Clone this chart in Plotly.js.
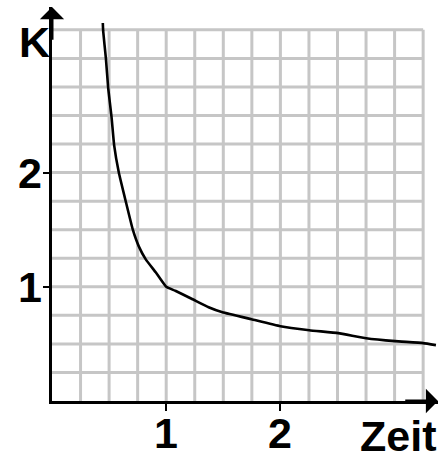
<!DOCTYPE html>
<html>
<head>
<meta charset="utf-8">
<script src="https://cdn.plot.ly/plotly-3.0.1.min.js"></script>
<style>html,body{margin:0;padding:0;background:#fff;}#chart{width:438px;height:455px;}</style>
</head>
<body>
<div id="chart"></div>
<script>
// Curve: Zeit (x) and K (y)
var zeit = [0.445, 0.448, 0.472, 0.492, 0.521, 0.544, 0.585, 0.646, 0.707, 0.760, 0.821, 0.908, 1.0, 1.08, 1.231, 1.371, 1.493, 1.747, 2.0, 2.253, 2.507, 2.751, 3.004, 3.249, 3.362];
var kWerte = [3.31, 3.24, 3.0, 2.74, 2.49, 2.24, 2.0, 1.747, 1.502, 1.354, 1.24, 1.127, 1.0, 0.965, 0.891, 0.821, 0.777, 0.716, 0.655, 0.62, 0.594, 0.55, 0.524, 0.507, 0.489];

var xTickVals = [1, 2];
var xTickText = ['1', '2'];
var yTickVals = [1, 2];
var yTickText = ['1', '2'];
var xTitle = 'Zeit';
var yTitle = 'K';

var gridStep = 0.25;
var gridMax = 3.25;
var xMax = 3.38;
var yMax = 3.45;

var fontFam = 'Liberation Sans, Arial, sans-serif';
var gridColor = '#c6c6c6';
var labelFont = {family: fontFam, size: 43, color: '#000', weight: 'bold'};

var shapes = [];
for (var g = gridStep; g <= gridMax + 1e-9; g += gridStep) {
  shapes.push({type: 'line', layer: 'below', xref: 'x', yref: 'y', x0: g, x1: g, y0: 0, y1: gridMax, line: {color: gridColor, width: 3}});
  shapes.push({type: 'line', layer: 'below', xref: 'x', yref: 'y', x0: 0, x1: gridMax, y0: g, y1: g, line: {color: gridColor, width: 3}});
}

var trace = {
  x: zeit, y: kWerte, type: 'scatter', mode: 'lines',
  line: {color: '#000', width: 2.6, shape: 'spline', smoothing: 0.35},
  hoverinfo: 'none'
};

var annotations = [
  {xref: 'x', yref: 'y', x: 0, y: yMax, axref: 'x', ayref: 'y', ax: 0, ay: yMax - 0.3, text: '', showarrow: true,
   arrowhead: 1, arrowsize: 1.35, arrowwidth: 3, arrowcolor: '#000', standoff: 0},
  {xref: 'x', yref: 'y', x: xMax, y: 0, axref: 'x', ayref: 'y', ax: xMax - 0.3, ay: 0, text: '', showarrow: true,
   arrowhead: 1, arrowsize: 1.35, arrowwidth: 3, arrowcolor: '#000', standoff: 0},
  {xref: 'paper', yref: 'paper', x: 1, y: 0, xanchor: 'right', yanchor: 'middle', yshift: -35, xshift: 0,
   text: xTitle, showarrow: false, font: labelFont},
  {xref: 'paper', yref: 'paper', x: 0, y: 3.14 / yMax, xanchor: 'center', yanchor: 'middle', xshift: -18,
   text: yTitle, showarrow: false, font: labelFont}
];
xTickVals.forEach(function (v, i) {
  annotations.push({xref: 'x', yref: 'paper', x: v, y: 0, xanchor: 'center', yanchor: 'middle', yshift: -32,
    text: xTickText[i], showarrow: false, font: labelFont});
});
yTickVals.forEach(function (v, i) {
  annotations.push({xref: 'paper', yref: 'y', x: 0, y: v, xanchor: 'right', yanchor: 'middle', xshift: -8,
    text: yTickText[i], showarrow: false, font: labelFont});
});

var layout = {
  width: 438, height: 455,
  margin: {l: 52, r: 0, t: 7, b: 54, pad: 0},
  paper_bgcolor: '#fff', plot_bgcolor: '#fff',
  showlegend: false,
  xaxis: {
    range: [0, xMax], showgrid: false, zeroline: false,
    showline: true, linecolor: '#000', linewidth: 3,
    tickmode: 'array', tickvals: xTickVals, showticklabels: false,
    ticks: 'outside', ticklen: 7, tickwidth: 2, tickcolor: '#000',
    fixedrange: true
  },
  yaxis: {
    range: [0, yMax], showgrid: false, zeroline: false,
    showline: true, linecolor: '#000', linewidth: 3,
    tickmode: 'array', tickvals: yTickVals, showticklabels: false,
    ticks: 'outside', ticklen: 6, tickwidth: 2, tickcolor: '#000',
    fixedrange: true
  },
  shapes: shapes,
  annotations: annotations
};

Plotly.newPlot('chart', [trace], layout, {displayModeBar: false, staticPlot: true});
</script>
</body>
</html>
